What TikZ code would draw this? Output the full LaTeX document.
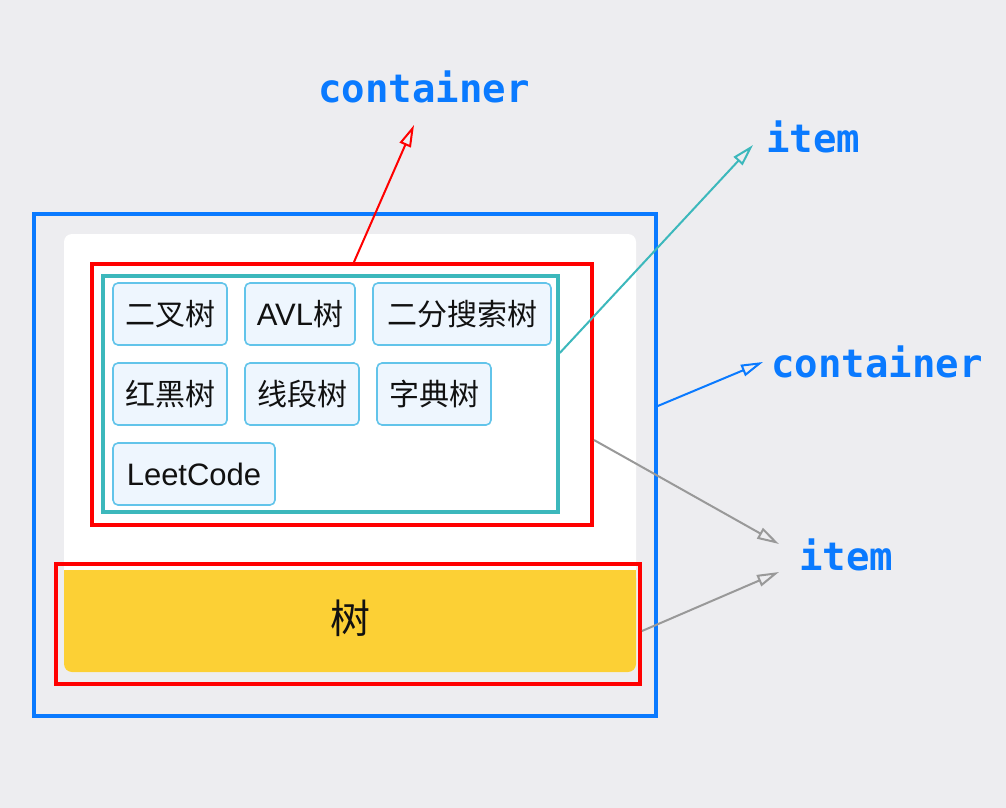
\documentclass[tikz,border=0pt]{standalone}
\usepackage{fontspec}
\usetikzlibrary{arrows.meta,calc}
\newfontfamily\cjkf{Noto Sans CJK SC}
\newfontfamily\latf{Liberation Sans}
\newfontfamily\monof{DejaVu Sans Mono}
\definecolor{bg}{HTML}{EDEDF0}
\definecolor{lblue}{HTML}{0A7AFF}
\definecolor{rred}{HTML}{FF0000}
\definecolor{tealc}{HTML}{3CB8BC}
\definecolor{gline}{HTML}{999999}
\definecolor{ybarc}{HTML}{FCD035}
\definecolor{tagline}{HTML}{62C4EA}
\definecolor{tagfill}{HTML}{EEF6FE}
\definecolor{ink}{HTML}{111111}
\begin{document}
\begin{tikzpicture}[x=1pt,y=-1pt,
  frame/.style={draw, line width=3.5pt, inner sep=0pt, fill=none},
  tagbox/.style={draw=tagline, fill=tagfill, rounded corners=5pt, line width=1.6pt,
    minimum height=62pt, inner sep=0pt, text=ink, font={\fontsize{30}{36}\selectfont\cjkf}},
  lbl/.style={text=lblue, font={\fontsize{39}{44}\selectfont\monof\bfseries}, inner sep=0pt, anchor=base west},
  arr/.style={line width=2pt, -{Triangle[open,length=22pt,width=12pt]}}]
\useasboundingbox (0,0) rectangle (1006,808);
\fill[fill=bg] (0,0) rectangle (1006,808);
% outer blue container
\node[frame, draw=lblue, minimum width=622pt, minimum height=502pt] (outer) at (345,465) {};
% white card
\node[fill=white, rounded corners=8pt, minimum width=572pt, minimum height=438pt, inner sep=0pt] (card) at (350,453) {};
% yellow bar
\node[fill=ybarc, rounded corners=8pt, minimum width=572pt, minimum height=102pt, inner sep=0pt] (bar) at (350,621) {};
\path[fill=ybarc] (bar.north west) rectangle (bar.east);
\node[text=ink, font={\fontsize{40}{46}\selectfont\cjkf}, inner sep=0pt] (barlabel) at (350,618) {树};
% red item box and teal container
\node[frame, draw=rred, line width=4pt, minimum width=500pt, minimum height=261pt] (red1) at (342,394.5) {};
\node[frame, draw=tealc, minimum width=455pt, minimum height=236pt] (tealbox) at (330.5,394) {};
% tags
\node[tagbox, minimum width=114pt] (t1) at (170,314) {二叉树};
\node[tagbox, minimum width=110pt] (t2) at (300,314) {{\latf\fontsize{31}{36}\selectfont AVL}树};
\node[tagbox, minimum width=178pt] (t3) at (462,314) {二分搜索树};
\node[tagbox, minimum width=114pt] (t4) at (170,394) {红黑树};
\node[tagbox, minimum width=114pt] (t5) at (302,394) {线段树};
\node[tagbox, minimum width=114pt] (t6) at (434,394) {字典树};
\node[tagbox, minimum width=162pt] (t7) at (194,474) {{\latf\fontsize{31}{36}\selectfont LeetCode}};
% red item box around bar
\node[frame, draw=rred, line width=4pt, minimum width=584pt, minimum height=120pt] (red2) at (348,624) {};
% labels
\node[lbl] (lctop) at (318,102) {container};
\node[lbl] (litop) at (766,152) {item};
\node[lbl] (lcright) at (771,377) {container};
\node[lbl] (libot) at (799,570) {item};
% arrow tips
\coordinate (a1) at (414,125);
\coordinate (a2) at (753,145);
\coordinate (a3) at (763,362);
\coordinate (a4) at (779,544);
\coordinate (a5) at (779,572);
% arrows
\draw[arr, draw=rred] ($(red1.north)+(12,0)$) -- (a1);
\draw[arr, draw=tealc] ($(tealbox.east)+(0,-41)$) -- (a2);
\draw[arr, draw=lblue] ($(outer.east)+(0,-59)$) -- (a3);
\draw[arr, draw=gline] ($(red1.east)+(0,45.5)$) -- (a4);
\draw[arr, draw=gline] ($(red2.east)+(0,7)$) -- (a5);
\end{tikzpicture}
\end{document}
